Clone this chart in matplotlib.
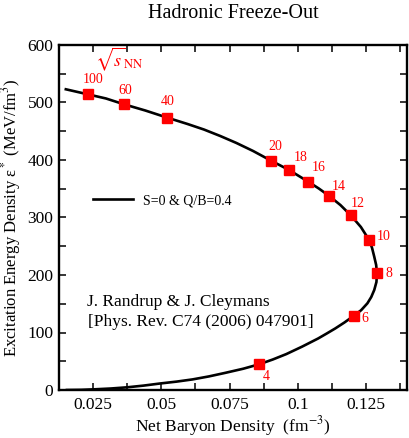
import matplotlib
matplotlib.use("Agg")
import matplotlib.pyplot as plt

# ---- data ----
curve_n = [0.015, 0.0230, 0.0297, 0.0363, 0.0441, 0.0522, 0.0596, 0.0656, 0.0716, 0.0775,
           0.0836, 0.0902, 0.0968, 0.1001, 0.1038, 0.1077, 0.1115, 0.1156, 0.1194, 0.1231,
           0.1262, 0.1272, 0.1280, 0.1287, 0.1290, 0.1288, 0.1280, 0.1269, 0.1255, 0.1232,
           0.1204, 0.1171, 0.1137, 0.1105, 0.1074, 0.1016, 0.0958, 0.0908, 0.0858, 0.0800,
           0.0734, 0.0674, 0.0614, 0.0556, 0.0495, 0.0434, 0.0375, 0.0315, 0.0255, 0.0207,
           0.0154]
curve_e = [523.0, 514.3, 507.0, 496.9, 486.1, 473.6, 462.6, 453.0, 441.7, 429.6,
           415.7, 398.8, 382.6, 373.0, 362.3, 350.4, 337.4, 321.7, 303.8, 283.5,
           260.3, 247.0, 231.8, 217.4, 203.0, 187.8, 173.9, 161.7, 150.8, 138.8,
           128.7, 117.5, 107.0, 98.0, 89.5, 75.5, 62.5, 53.0, 44.7, 37.0,
           29.8, 23.6, 18.4, 14.6, 11.3, 7.6, 4.7, 2.6, 1.2, 0.3,
           0.0]

sqrt_s = ["100", "60", "40", "20", "18", "16", "14", "12", "10", "8", "6", "4"]
point_n = [0.0230, 0.0363, 0.0522, 0.0902, 0.0968, 0.1038, 0.1115, 0.1194, 0.1262, 0.1290, 0.1204, 0.0858]
point_e = [514.3, 496.9, 473.6, 398.8, 382.6, 362.3, 337.4, 303.8, 260.3, 203.0, 128.7, 44.7]

x_ticks = [0.025, 0.05, 0.075, 0.1, 0.125]
x_ticklabels = ["0.025", "0.05", "0.075", "0.1", "0.125"]
y_ticks = [0, 100, 200, 300, 400, 500, 600]

# label offsets in pixels (dx, dy up)
label_offsets = [(5, 15), (1, 14), (0, 16), (4, 14), (12, 13), (10, 14), (10, 9),
                 (7, 12), (14, 4), (12, 0), (11, -3), (7, -12)]

plt.rcParams['font.family'] = ['Liberation Serif', 'DejaVu Serif']
plt.rcParams['mathtext.fontset'] = 'stix'

fig = plt.figure(figsize=(4.09, 4.38), dpi=100)
ax = fig.add_axes([59/409, 48/438, 348/409, 345/438])

ax.plot(curve_n, curve_e, color='black', lw=1.9, label='S=0 & Q/B=0.4', zorder=2,
        solid_joinstyle='round')
ax.plot(point_n, point_e, ls='none', marker='s', ms=7, color='#ff0000', mec='#ff0000', zorder=3)
for lab, xn, ye, off in zip(sqrt_s, point_n, point_e, label_offsets):
    ax.annotate(lab, (xn, ye), xytext=off, textcoords='offset pixels',
                ha='center', va='center', color='#ff0000', fontsize=10)

ax.set_xlim(0.015, 0.14)
ax.set_ylim(0, 600)
ax.set_xticks(x_ticks)
ax.set_xticklabels(x_ticklabels)
ax.set_yticks(y_ticks)
ax.set_xticks([0.0125 * k + 0.0125 for k in range(11)], minor=True)
ax.set_yticks([50 * k for k in range(13)], minor=True)
ax.tick_params(which='both', direction='in', top=True, right=True, width=1.1,
               labelsize=12.5)
ax.tick_params(which='major', length=5)
ax.tick_params(which='minor', length=5)
ax.tick_params(axis='x', pad=5)
ax.tick_params(axis='y', pad=4)
for s in ax.spines.values():
    s.set_linewidth(1.7)

ax.set_xlabel(r"Net Baryon Density  (fm$^{-3}$)", fontsize=12.5, labelpad=1)
ax.set_ylabel(r"Excitation Energy Density ε$^*$ (MeV/fm$^3$)", fontsize=12, labelpad=3)
fig.text(233/409, 1 - 13/438, "Hadronic Freeze-Out", ha='center', va='center', fontsize=14.5)

ax.text(0.103, 0.958, r"$\sqrt{s}_{\rm NN}$", transform=ax.transAxes, color='#ff0000',
        fontsize=13, ha='left', va='center')

ax.legend(loc='center left', bbox_to_anchor=(0.098, 0.549), frameon=False,
          borderpad=0, borderaxespad=0, handlelength=2.9, handletextpad=0.7,
          fontsize=10)

ax.text(0.08, 0.255, "J. Randrup & J. Cleymans", transform=ax.transAxes,
        fontsize=12.5, ha='left', va='center')
ax.text(0.084, 0.197, "[Phys. Rev. C74 (2006) 047901]", transform=ax.transAxes,
        fontsize=12.5, ha='left', va='center')

fig.savefig("out.png", dpi=100)
